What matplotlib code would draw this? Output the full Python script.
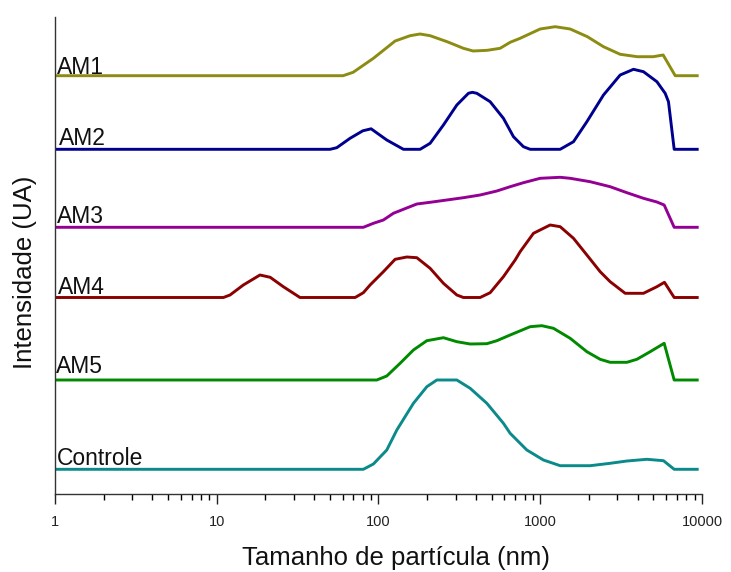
import numpy as np
import matplotlib
matplotlib.use("Agg")
import matplotlib.pyplot as plt
from matplotlib.ticker import LogLocator, FixedLocator, FixedFormatter, NullFormatter

plt.rcParams['font.family'] = ['Liberation Sans', 'DejaVu Sans']

# ---------------- data (size in nm, intensity in arbitrary units) ----------------
series_names = ["AM1", "AM2", "AM3", "AM4", "AM5", "Controle"]

am1_size = [1, 60.4, 69.7, 93.0, 126.7, 156.8, 180.8, 208.5, 265.5, 335, 384.6, 470.6, 565,
            651.5, 751, 998.6, 1237, 1531, 1956, 2460, 3120, 3980, 4992, 5754, 6830, 9340]
am1_int = [0, 0, 3.4, 17.4, 34.7, 40, 41.7, 40, 34, 27.4, 24.7, 25.4, 27.4,
           33.4, 37.4, 46.7, 49, 46.7, 39, 29, 21.4, 19, 19, 20.7, 0, 0]

am2_size = [1, 50.2, 55.2, 66.7, 80.0, 90.0, 112.5, 142.6, 180.8, 208.5, 252, 305, 359.7, 380,
            405.4, 490, 592, 683, 787, 866, 1328, 1605, 1942, 2460, 3120, 3771, 4346, 5262,
            5920, 6205, 6730, 9340]
am2_int = [0, 0, 1.6, 11, 18.5, 20.5, 9.3, 0, 0, 6, 24.3, 44.3, 56, 57,
           56, 47.6, 31, 12.6, 2.6, 0, 0, 7.6, 27.6, 54.3, 74.3, 80, 77.6, 67.6,
           56, 47.6, 0, 0]

am3_size = [1, 80.6, 93.0, 107.2, 123.6, 142.6, 172.6, 208.5, 264.5, 335, 425, 539, 651.5,
            787, 998.6, 1328, 1531, 2035, 2705, 3433, 4346, 5262, 5836, 6730, 9340]
am3_int = [0, 0, 4, 7.3, 14, 18, 23.3, 25, 27.3, 29.6, 32.3, 36.3, 40.6,
           44.6, 49, 50, 49, 45.6, 40.6, 34.6, 29, 25.3, 22.3, 0, 0]

am4_size = [1, 10.99, 12.08, 14.6, 18.5, 21.4, 25.8, 32.7, 71.7, 80.6, 88.7, 107.2, 126.7,
            149.6, 172.6, 208.5, 252, 305, 335, 425, 490, 592, 699.6, 751, 908, 1151,
            1328, 1605, 1942, 2347, 2705, 3350, 4346, 5262, 5860, 6730, 9340]
am4_int = [0, 0, 2.5, 12.5, 22.5, 20.2, 10.8, 0, 0, 4.8, 12.5, 25.8, 38.2,
           40.5, 39.8, 29.2, 14.2, 2.5, 0, 0, 4.8, 20.8, 37.5, 45.8, 64.2, 72.5,
           70.8, 59.2, 42.5, 25.8, 15.8, 4.2, 4.2, 10.8, 15.2, 0, 0]

am5_size = [1, 97.6, 112.5, 136.0, 164.4, 199, 252, 305, 368.7, 467.6, 539, 651.5, 866,
            1023, 1207, 1531, 1942, 2347, 2705, 3433, 3958, 4782, 5836, 6730, 9340]
am5_int = [0, 0, 4, 16.7, 30, 39.3, 42.3, 38.3, 36, 36.3, 39.3, 45, 53.3,
           54.3, 51.7, 41.7, 28.3, 20.7, 17.7, 17.7, 20.7, 28.3, 36.7, 0, 0]

ctrl_size = [1, 80.6, 93.0, 112.5, 129.8, 164.4, 199, 229.4, 305, 368.7, 467.6, 592, 651.5,
             826, 1046, 1328, 2035, 2705, 3433, 4563, 5779, 6730, 9340]
ctrl_int = [0, 0, 5.3, 19.3, 39.3, 66, 82.6, 89.3, 89.3, 81, 66, 46, 36,
            19.3, 9.3, 3.6, 3.6, 6, 8.3, 10, 8.6, 0, 0]

# vertical stacking offset of each curve
offsets = [418.3, 344.7, 266.7, 196.5, 114.0, 24.7]

x_ticks = [1, 10, 100, 1000, 10000]
x_tick_labels = ["1", "10", "100", "1000", "10000"]

# ---------------- style ----------------
colors = ["#8c8c12", "#00008f", "#930093", "#8b0000", "#008a00", "#0a8a8a"]
label_gap = [2, 4, 4, 3, 7, 4]
label_x = [1.03, 1.06, 1.03, 1.05, 1.02, 1.03]

sizes = [am1_size, am2_size, am3_size, am4_size, am5_size, ctrl_size]
ints = [am1_int, am2_int, am3_int, am4_int, am5_int, ctrl_int]

fig = plt.figure(figsize=(7.31, 5.72), dpi=100)
ax = fig.add_axes([55 / 731, 1 - 494 / 572, (702 - 55) / 731, (494 - 17) / 572])

for name, s, v, off, c, g, lx in zip(series_names, sizes, ints, offsets, colors, label_gap, label_x):
    ax.plot(s, np.array(v) + off, color=c, lw=2.1, solid_joinstyle='round')
    ax.text(lx, off + g, name, fontsize=16.5, va='baseline', ha='left', color='#111111')

ax.set_xscale('log')
ax.set_xlim(1, 10000)
ax.set_ylim(0, 477)
ax.xaxis.set_major_locator(FixedLocator(x_ticks))
ax.xaxis.set_major_formatter(FixedFormatter(x_tick_labels))
ax.xaxis.set_minor_locator(LogLocator(base=10, subs=np.arange(2, 10)))
ax.xaxis.set_minor_formatter(NullFormatter())
ax.tick_params(axis='x', which='major', direction='out', length=7, width=1, labelsize=10.5,
               pad=8, colors='#222222')
ax.tick_params(axis='x', which='minor', direction='out', length=4, width=1)
ax.set_yticks([])
for sp in ['top', 'right']:
    ax.spines[sp].set_visible(False)
for sp in ['left', 'bottom']:
    ax.spines[sp].set_color('#333333')
    ax.spines[sp].set_linewidth(1.0)

ax.set_xlabel("Tamanho de partícula (nm)", fontsize=18.5, labelpad=12, color='#111111')
ax.set_ylabel("Intensidade (UA)", fontsize=18.5, labelpad=13, color='#111111')
ax.xaxis.label.set_x(0.527)
ax.yaxis.label.set_y(0.465)

fig.savefig("out.png", dpi=100)
